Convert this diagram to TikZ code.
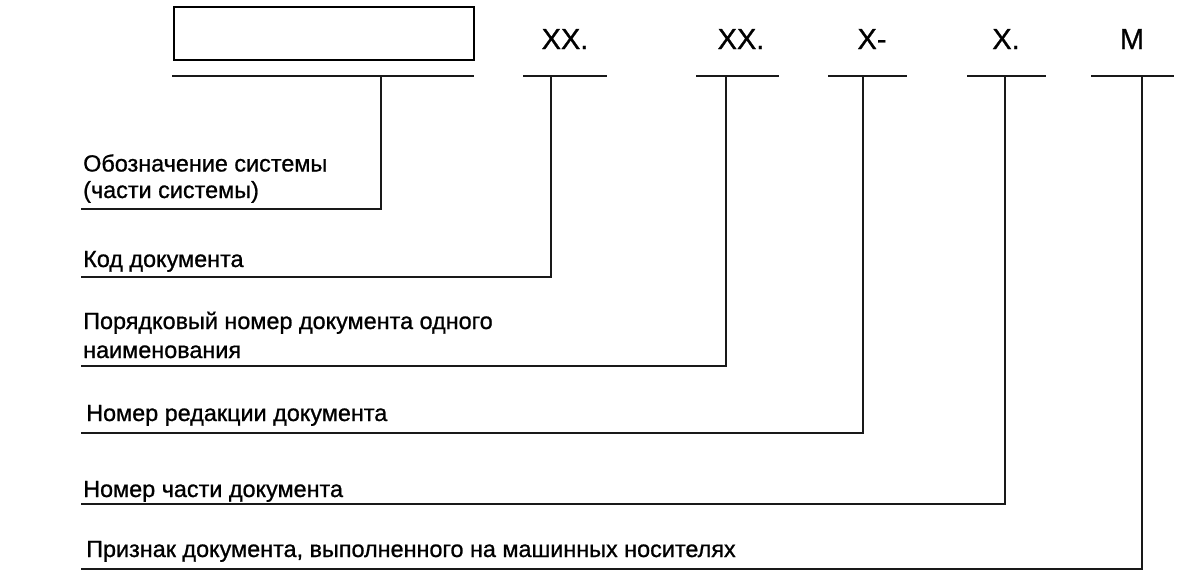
\documentclass[tikz,border=0pt]{standalone}
\usepackage{fontspec}
\setmainfont{Liberation Sans}[FakeBold=0.7]
\newfontfamily\heavy{Liberation Sans}[UprightFont=*, BoldFont=*, FakeBold=0.9]
\begin{document}
\begin{tikzpicture}[x=1pt,y=-1pt,
  ln/.style={line width=2.2pt, color=black!90},
  code/.style={font=\fontsize{29}{34}\selectfont\heavy\bfseries, inner sep=0pt, anchor=base},
  lbl/.style={font=\fontsize{23.4}{28}\selectfont\heavy\bfseries, inner sep=0pt, anchor=base west, align=left}]
\useasboundingbox (0,0) rectangle (1186,584);
% box
\node[draw, line width=2.2pt, minimum width=300pt, minimum height=53pt, inner sep=0pt, anchor=north west] (box) at (173,5.5) {};
% header codes
\node[code] (c1) at (565,49) {XX.};
\node[code] (c2) at (741,49) {XX.};
\node[code] (c3) at (872,49) {X-};
\node[code] (c4) at (1006,49) {X.};
\node[code] (c5) at (1132,49) {M};
% top lines
\coordinate (t0a) at (172,76); \coordinate (t0b) at (474,76);
\coordinate (t1a) at (523,76); \coordinate (t1b) at (607,76);
\coordinate (t2a) at (696,76); \coordinate (t2b) at (779,76);
\coordinate (t3a) at (828,76); \coordinate (t3b) at (907,76);
\coordinate (t4a) at (967,76); \coordinate (t4b) at (1046,76);
\coordinate (t5a) at (1091,76); \coordinate (t5b) at (1174,76);
\foreach \i in {0,...,5} {\draw[ln] (t\i a) -- (t\i b);}
% stems
\coordinate (s0) at (381,76); \coordinate (s1) at (551,76);
\coordinate (s2) at (726,76); \coordinate (s3) at (863,76);
\coordinate (s4) at (1005,76); \coordinate (s5) at (1142,76);
% labels (base of a two-line label is its last line)
\node[lbl, font=\fontsize{23.4}{26.5}\selectfont\heavy\bfseries] (l0) at (83,198) {Обозначение системы\\(части системы)};
\node[lbl] (l1) at (83,267) {Код документа};
\node[lbl, font=\fontsize{23.4}{29}\selectfont\heavy\bfseries] (l2) at (83,358) {Порядковый номер документа одного\\наименования};
\node[lbl] (l3) at (86,421) {Номер редакции документа};
\node[lbl] (l4) at (83,497) {Номер части документа};
\node[lbl] (l5) at (86,557) {Признак документа, выполненного на машинных носителях};
% bottom line starts
\coordinate (b0) at (81,209); \coordinate (b1) at (81,277);
\coordinate (b2) at (81,366); \coordinate (b3) at (81,433);
\coordinate (b4) at (81,504); \coordinate (b5) at (81,569);
\foreach \i in {0,...,5} {\draw[ln] (s\i) |- (b\i);}
\end{tikzpicture}
\end{document}
